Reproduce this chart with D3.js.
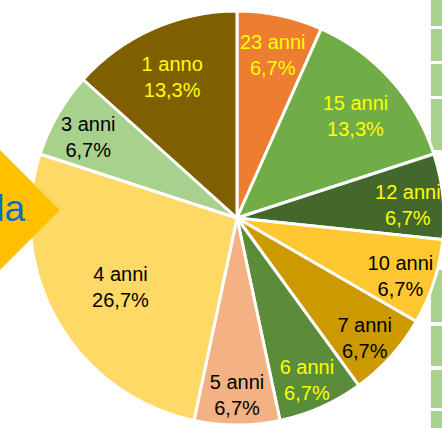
<!DOCTYPE html>
<html>
<head>
<meta charset="utf-8">
<script src="https://cdn.jsdelivr.net/npm/d3@7"></script>
<style>
  html, body { margin: 0; padding: 0; background: #fff; }
  svg { display: block; }
</style>
</head>
<body>
<script>
var width = 442,
    height = 428;

// data, clockwise from 12 o'clock
var categories = ["23 anni", "15 anni", "12 anni", "10 anni", "7 anni", "6 anni", "5 anni", "4 anni", "3 anni", "1 anno"];
var counts = [1, 2, 1, 1, 1, 1, 1, 4, 1, 2];
var percentLabels = ["6,7%", "13,3%", "6,7%", "6,7%", "6,7%", "6,7%", "6,7%", "26,7%", "6,7%", "13,3%"];
var colors = ["#ED7D31", "#70AD47", "#43682B", "#FFC832", "#CC9A00", "#5B8C3A", "#F4B183", "#FFD966", "#A9D18E", "#7F6000"];
var textColors = ["#FFFF00", "#FFFF00", "#FFFF00", "#000", "#000", "#FFFF00", "#000", "#000", "#000", "#FFFF00"];

var cx = 237, cy = 218, r = 207;

var svg = d3.select("body").append("svg")
    .attr("width", width)
    .attr("height", height);

// light green table strip on the right, behind the pie
var stripRows = [[0, 26], [29, 61], [64, 96], [99, 150], [270, 322], [326, 366], [370, 408], [411, 428]];
svg.selectAll(".strip")
    .data(stripRows)
    .enter().append("rect")
    .attr("class", "strip")
    .attr("x", 431)
    .attr("width", 12)
    .attr("y", function (d) { return d[0]; })
    .attr("height", function (d) { return d[1] - d[0]; })
    .style("fill", "#A9D18E");

var pie = d3.pie().sort(null).value(function (d) { return d; });
var arcs = pie(counts);

var arc = d3.arc().innerRadius(0).outerRadius(r);

var g = svg.append("g").attr("transform", "translate(" + cx + "," + cy + ")");

g.selectAll(".slice")
    .data(arcs)
    .enter().append("path")
    .attr("class", "slice")
    .attr("d", arc)
    .style("fill", function (d, i) { return colors[i]; })
    .style("stroke", "#fff")
    .style("stroke-width", 3)
    .style("stroke-linejoin", "round");

// label placement (best fit): small slices further out
function labelRadius(i) {
    if (counts[i] >= 4) return 0.65 * r;
    if (counts[i] >= 2) return 0.77 * r;
    return 0.83 * r;
}

var labels = g.selectAll(".lbl")
    .data(arcs)
    .enter().append("text")
    .attr("class", "lbl")
    .attr("text-anchor", "middle")
    .style("font-family", "'Liberation Sans', Arial, sans-serif")
    .style("font-size", "20px")
    .style("fill", function (d, i) { return textColors[i]; })
    .attr("transform", function (d, i) {
        var a = (d.startAngle + d.endAngle) / 2;
        var lr = labelRadius(i);
        var dy = counts[i] >= 4 ? -3 : 0;
        return "translate(" + (Math.sin(a) * lr) + "," + (-Math.cos(a) * lr + dy) + ")";
    });

labels.append("tspan")
    .attr("x", 0)
    .attr("y", -1)
    .text(function (d, i) { return categories[i]; });
labels.append("tspan")
    .attr("x", 0)
    .attr("y", 25)
    .text(function (d, i) { return percentLabels[i]; });

// gold arrow coming in from the left, over the pie
svg.append("path")
    .attr("d", "M-10,150 L0,150 L60,210 L0,270 L-10,270 Z")
    .style("fill", "#FFC000");

svg.append("text")
    .attr("x", 25)
    .attr("y", 221)
    .attr("text-anchor", "end")
    .style("font-family", "'Liberation Sans', Arial, sans-serif")
    .style("font-size", "37px")
    .style("fill", "#0070C0")
    .text("la");
</script>
</body>
</html>
